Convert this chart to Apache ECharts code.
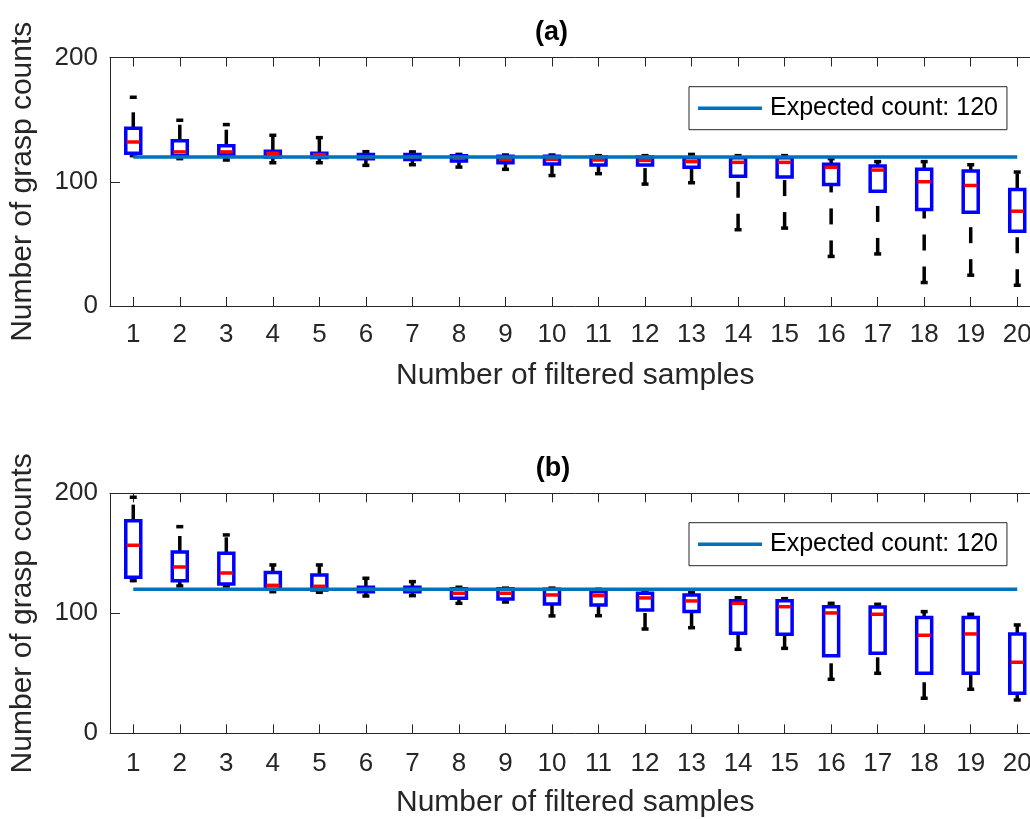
<!DOCTYPE html>
<html>
<head>
<meta charset="utf-8">
<script src="https://cdn.jsdelivr.net/npm/echarts@6/dist/echarts.min.js"></script>
<style>
html,body{margin:0;padding:0;overflow:hidden;background:#ffffff;width:1030px;height:819px;}
#chart{width:1042px;height:819px;}
</style>
</head>
<body>
<div id="chart"></div>
<script>
// ---------- data ----------
const categories = ['1','2','3','4','5','6','7','8','9','10','11','12','13','14','15','16','17','18','19','20'];
const yTicks = [0, 100, 200];
const expectedName = 'Expected count: 120';

// panel (a)
const lowerA  = [121, 118.6, 117.5, 115.3, 115.3, 113.2, 113.7, 111.8, 110, 105, 106.5, 98.1, 99.2, 61.4, 62.7, 39.9, 41.9, 18.9, 24.8, 16.7];
const q1A     = [123, 121, 122, 120, 119.5, 118.6, 118, 116.7, 115.3, 114.3, 113.4, 113.4, 111.6, 104.5, 103.8, 97.8, 92.4, 77.6, 75.4, 60.2];
const medianA = [132, 124, 124, 122.9, 121.8, 120, 120, 119, 118, 118, 117.5, 117.2, 116.2, 115.6, 115.6, 111.6, 109.4, 100, 97, 76.3];
const q3A     = [143, 133, 129, 124.5, 122.9, 122, 122, 121, 120.5, 120.5, 120, 120, 119.4, 119.4, 119.4, 114, 112.6, 110, 108.6, 93.8];
const upperA  = [168, 149.5, 146, 137.4, 135.5, 124.2, 124, 122, 121.5, 121.5, 121, 121, 122, 121, 121, 118.6, 116.2, 116.2, 113.7, 107.8];
const expectedA = [120, 120, 120, 120, 120, 120, 120, 120, 120, 120, 120, 120, 120, 120, 120, 120, 120, 120, 120, 120];

// panel (b)
const lowerB  = [127.2, 122.8, 122.8, 118, 117.5, 114.4, 114.7, 108.3, 109.4, 97.8, 98, 86.9, 88, 70, 70.8, 45, 50, 29.2, 36.7, 27.8];
const q1B     = [130, 127.2, 124.4, 120, 119.5, 118, 118, 112.5, 112, 107.8, 106.9, 102.8, 101.4, 83.3, 82.5, 64.7, 66.7, 50, 50, 33.3];
const medianB = [156.7, 138.6, 133.6, 123.3, 122.5, 120, 119.5, 116.7, 116.7, 115.3, 114.7, 112.8, 110.3, 108.3, 105.5, 100.3, 99.2, 81.7, 82.8, 59.2];
const q3B     = [177.2, 151.1, 150, 133.9, 131.9, 121.7, 121.7, 120.5, 120.5, 120, 118, 116.7, 115.3, 110.5, 110.5, 105.5, 105.2, 96.4, 96.4, 82.8];
const upperB  = [196.7, 172.2, 165.3, 140.3, 140.3, 129.2, 126.4, 121.7, 121, 121, 120, 118.5, 117.2, 113, 112.2, 108.3, 107.5, 101.4, 99.2, 90.3];
const expectedB = [120, 120, 120, 120, 120, 120, 120, 120, 120, 120, 120, 120, 120, 120, 120, 120, 120, 120, 120, 120];

// ---------- helpers ----------
const FONT = '"Liberation Sans", Arial, Helvetica, sans-serif';
const AXIS_COLOR = '#262626';

function boxRows(lo, q1, md, q3, up) {
  return categories.map((c, i) => [i, lo[i], q1[i], md[i], q3[i], up[i]]);
}

function renderBox(params, api) {
  const i = api.value(0);
  const lw = api.coord([i, api.value(1)]);
  const a1 = api.coord([i, api.value(2)]);
  const md = api.coord([i, api.value(3)]);
  const a3 = api.coord([i, api.value(4)]);
  const uw = api.coord([i, api.value(5)]);
  const x = lw[0];
  const hb = 7.5, hc = 3.5, hm = 6.5;
  const whisk = {stroke: '#000000', lineWidth: 3.5, lineDash: [16, 16], lineCap: 'butt'};
  const cap = {stroke: '#000000', lineWidth: 3.5};
  return {
    type: 'group',
    children: [
      {type: 'line', shape: {x1: x, y1: lw[1], x2: x, y2: a1[1]}, style: whisk},
      {type: 'line', shape: {x1: x, y1: a3[1], x2: x, y2: uw[1]}, style: whisk},
      {type: 'line', shape: {x1: x - hc, y1: lw[1], x2: x + hc, y2: lw[1]}, style: cap},
      {type: 'line', shape: {x1: x - hc, y1: uw[1], x2: x + hc, y2: uw[1]}, style: cap},
      {type: 'rect', shape: {x: x - hb, y: a3[1], width: 2 * hb, height: a1[1] - a3[1]},
       style: {fill: 'none', stroke: '#0000ff', lineWidth: 3.5}},
      {type: 'line', shape: {x1: x - hm, y1: md[1], x2: x + hm, y2: md[1]},
       style: {stroke: '#ff0000', lineWidth: 3.5}}
    ]
  };
}

function xAxes(grid, nameGap, labelMargin) {
  const line = {show: true, onZero: false, lineStyle: {color: AXIS_COLOR, width: 1}};
  const tick = {show: true, inside: true, alignWithLabel: true, length: 9, lineStyle: {color: AXIS_COLOR, width: 1}};
  return [
    {
      type: 'category', gridIndex: grid, position: 'bottom', data: categories, boundaryGap: true,
      axisLine: line, axisTick: tick,
      axisLabel: {fontSize: 26, color: AXIS_COLOR, fontFamily: FONT, margin: labelMargin, interval: 0},
      splitLine: {show: false},
      name: 'Number of filtered samples', nameLocation: 'middle', nameGap: nameGap,
      nameTextStyle: {fontSize: 30, color: AXIS_COLOR, fontFamily: FONT}
    },
    {
      type: 'category', gridIndex: grid, position: 'top', data: categories, boundaryGap: true,
      axisLine: line, axisTick: tick, axisLabel: {show: false}, splitLine: {show: false}
    }
  ];
}

function yAxes(grid) {
  const line = {show: true, onZero: false, lineStyle: {color: AXIS_COLOR, width: 1}};
  const tick = {show: true, inside: true, length: 10, lineStyle: {color: AXIS_COLOR, width: 1}};
  return [
    {
      type: 'value', gridIndex: grid, position: 'left', min: yTicks[0], max: yTicks[yTicks.length - 1], interval: yTicks[1] - yTicks[0],
      axisLine: line, axisTick: tick, splitLine: {show: false},
      axisLabel: {fontSize: 26, color: AXIS_COLOR, fontFamily: FONT, margin: 12},
      name: 'Number of grasp counts', nameLocation: 'middle', nameRotate: 90, nameGap: 72,
      nameTextStyle: {fontSize: 30, color: AXIS_COLOR, fontFamily: FONT}
    },
    {
      type: 'value', gridIndex: grid, position: 'right', min: yTicks[0], max: yTicks[yTicks.length - 1], interval: yTicks[1] - yTicks[0],
      axisLine: line, axisTick: tick, splitLine: {show: false}, axisLabel: {show: false}
    }
  ];
}

function legendAt(top) {
  return {
    show: true, left: 689, top: top, orient: 'horizontal',
    data: [{name: expectedName, icon: 'rect'}],
    itemWidth: 64, itemHeight: 3.5, padding: [9, 9, 9, 9],
    borderColor: AXIS_COLOR, borderWidth: 1, borderRadius: 0, backgroundColor: '#ffffff',
    selectedMode: false,
    itemStyle: {color: '#0072BD', borderWidth: 0},
    textStyle: {fontSize: 25, color: '#000000', fontFamily: FONT, padding: [0, 0, 0, 3]}
  };
}

const option = {
  animation: false,
  backgroundColor: '#ffffff',
  grid: [
    {left: 109.5, width: 931, top: 57.5, height: 248.5, containLabel: false},
    {left: 109.5, width: 931, top: 493.3, height: 240, containLabel: false}
  ],
  xAxis: [].concat(xAxes(0, 55, 16), xAxes(1, 54, 18)),
  yAxis: [].concat(yAxes(0), yAxes(1)),
  legend: [legendAt(86.7), legendAt(522.7)],
  graphic: [
    {type: 'text', x: 551.5, y: 33, style: {text: '(a)', textAlign: 'center', textVerticalAlign: 'middle', font: 'bold 27px ' + FONT, fill: '#000000'}},
    {type: 'text', x: 553, y: 469, style: {text: '(b)', textAlign: 'center', textVerticalAlign: 'middle', font: 'bold 27px ' + FONT, fill: '#000000'}}
  ],
  series: [
    {
      type: 'custom', name: 'Boxes (a)', xAxisIndex: 0, yAxisIndex: 0, z: 2,
      renderItem: renderBox, encode: {x: 0, y: [1, 2, 3, 4, 5]},
      data: boxRows(lowerA, q1A, medianA, q3A, upperA)
    },
    {
      type: 'line', name: expectedName, xAxisIndex: 0, yAxisIndex: 0, z: 5,
      data: expectedA, symbol: 'none', showSymbol: false,
      lineStyle: {color: '#0072BD', width: 3.5}, itemStyle: {color: '#0072BD'}
    },
    {
      type: 'custom', name: 'Boxes (b)', xAxisIndex: 2, yAxisIndex: 2, z: 2,
      renderItem: renderBox, encode: {x: 0, y: [1, 2, 3, 4, 5]},
      data: boxRows(lowerB, q1B, medianB, q3B, upperB)
    },
    {
      type: 'line', name: expectedName, xAxisIndex: 2, yAxisIndex: 2, z: 5,
      data: expectedB, symbol: 'none', showSymbol: false,
      lineStyle: {color: '#0072BD', width: 3.5}, itemStyle: {color: '#0072BD'}
    }
  ]
};

const chart = echarts.init(document.getElementById('chart'), null, {renderer: 'canvas'});
chart.setOption(option);
</script>
</body>
</html>
